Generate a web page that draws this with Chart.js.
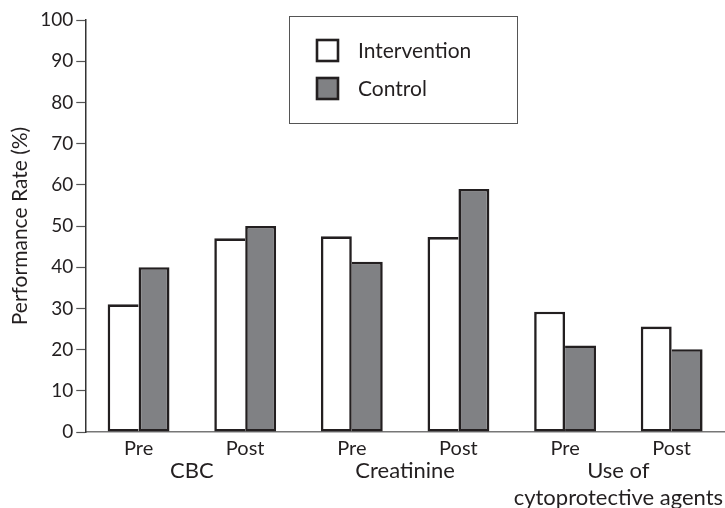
<!DOCTYPE html>
<html><head><meta charset="utf-8">
<script src="https://cdn.jsdelivr.net/npm/chart.js@4"></script>
<style>html,body{margin:0;padding:0;background:#fff}#wrap{width:725px;height:508px}</style>
</head><body><div id="wrap"><canvas id="c" width="725" height="508"></canvas></div>
<script>
const categories = ["Pre", "Post", "Pre", "Post", "Pre", "Post"];
const groups = ["CBC", "Creatinine", ["Use of", "cytoprotective agents"]];
const intervention = [31, 47, 47.5, 47.3, 29.2, 25.6];
const control = [40, 50, 41.3, 59, 21, 20.1];
const seriesNames = ["Intervention", "Control"];
const yTicks = [0, 10, 20, 30, 40, 50, 60, 70, 80, 90, 100];

const FONT = "Lato, 'Open Sans', sans-serif";
const INK = '#231f20';
const BW = 2.6;

const legendBox = {
  id: 'legendBox',
  afterDraw(chart) {
    const ctx = chart.ctx;
    ctx.save();
    ctx.strokeStyle = '#555';
    ctx.lineWidth = 1;
    ctx.strokeRect(289.5, 16.5, 228, 107);
    chart.data.datasets.forEach((ds, i) => {
      const y = 50 + i * 38;
      ctx.fillStyle = ds.backgroundColor;
      ctx.fillRect(317, y - 10, 21, 21);
      ctx.strokeStyle = INK;
      ctx.lineWidth = 2.6;
      ctx.strokeRect(317, y - 10, 21, 21);
      ctx.fillStyle = INK;
      ctx.font = '21px ' + FONT;
      ctx.textBaseline = 'middle';
      ctx.fillText(ds.label, 358, y + 1);
    });
    ctx.restore();
  }
};

new Chart(document.getElementById('c'), {
  type: 'bar',
  data: {
    labels: categories,
    datasets: [
      {
        label: seriesNames[0], data: intervention, backgroundColor: '#ffffff', borderColor: INK,
        borderSkipped: false,
        borderWidth: (c) => ({top: BW, bottom: BW, left: BW,
          right: intervention[c.dataIndex] >= control[c.dataIndex] ? BW : 0})
      },
      {
        label: seriesNames[1], data: control, backgroundColor: '#808184', borderColor: INK,
        borderSkipped: false,
        borderWidth: (c) => ({top: BW, bottom: BW, right: BW,
          left: control[c.dataIndex] > intervention[c.dataIndex] ? BW : 0})
      }
    ]
  },
  options: {
    responsive: false,
    animation: false,
    layout: {padding: {top: 20, right: 0, left: 4, bottom: 0}},
    datasets: {bar: {barPercentage: 1.0, categoryPercentage: 0.58}},
    plugins: {legend: {display: false}, tooltip: {enabled: false}},
    scales: {
      x: {
        weight: 0,
        grid: {display: false, drawTicks: false},
        border: {display: true, color: '#777', width: 1.5},
        ticks: {color: INK, font: {family: FONT, size: 20}, padding: 5},
        afterFit: (s) => { s.height = 30; }
      },
      x2: {
        type: 'category',
        labels: groups,
        position: 'bottom',
        weight: 1,
        offset: true,
        grid: {display: false, drawTicks: false},
        border: {display: false},
        ticks: {color: INK, font: {family: FONT, size: 22, lineHeight: 1.2}, padding: -4, maxRotation: 0, autoSkip: false},
        afterFit: (s) => { s.height = 46; }
      },
      y: {
        min: 0, max: 100,
        afterBuildTicks: (s) => { s.ticks = yTicks.map(v => ({value: v})); },
        grid: {drawOnChartArea: false, drawTicks: true, tickLength: 9, tickColor: '#555', tickWidth: 1.2},
        border: {display: true, color: '#333', width: 1.5},
        ticks: {color: INK, font: {family: FONT, size: 19}, padding: 3},
        title: {display: true, text: 'Performance Rate (%)', color: INK, font: {family: FONT, size: 21}, padding: 4}
      }
    }
  },
  plugins: [legendBox]
});
</script></body></html>
